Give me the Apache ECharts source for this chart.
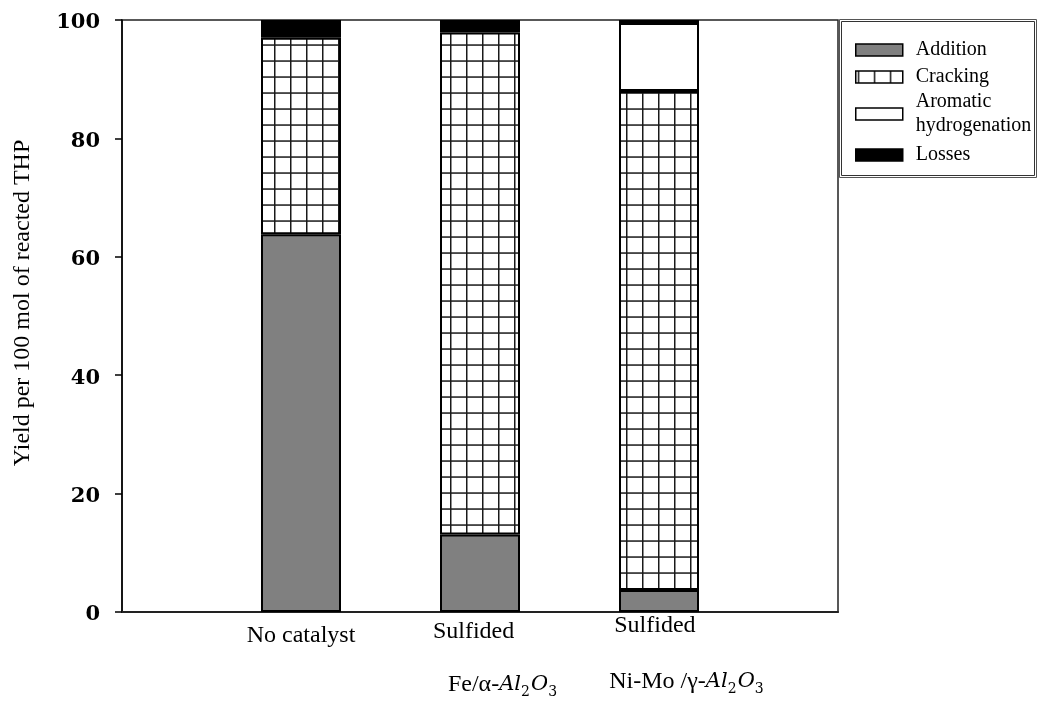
<!DOCTYPE html>
<html>
<head>
<meta charset="utf-8">
<script src="https://cdn.jsdelivr.net/npm/echarts@6/dist/echarts.min.js"></script>
<style>
  html, body { margin: 0; padding: 0; background: #fff; }
  #chart { width: 1038px; height: 711px; }
</style>
</head>
<body>
<div id="chart"></div>
<script>
// Catalyst runs (blank slots at both ends give the side margins)
const categories = ['', 'No catalyst', 'Sulfided Fe/α-Al2O3', 'Sulfided Ni-Mo /γ-Al2O3', ''];
const labelLine1 = ['', 'No catalyst', 'Sulfided', 'Sulfided', ''];
const labelLine2 = ['', '', 'Fe/α-', 'Ni-Mo /γ-', ''];

// Yield per 100 mol of reacted THP, stacked from the bottom
const addition = ['-', 63.8, 13.1, 3.7, '-'];
const cracking = ['-', 33.2, 84.8, 84.3, '-'];
const aromatic = ['-', '-', '-', 11.5, '-'];
const losses   = ['-', 3.0, 2.1, 0.5, '-'];

const yTicks = [0, 20, 40, 60, 80, 100];

const serif = '"Liberation Serif", "Times New Roman", serif';

// square grid hatch used for the cracking fraction
function gridPattern() {
  const c = document.createElement('canvas');
  c.width = 16; c.height = 16;
  const g = c.getContext('2d');
  g.fillStyle = '#fff';
  g.fillRect(0, 0, 16, 16);
  g.fillStyle = '#1a1a1a';
  g.fillRect(2, 0, 1.5, 16);
  g.fillRect(0, 12.3, 16, 1.5);
  return { image: c, repeat: 'repeat' };
}

const chart = echarts.init(document.getElementById('chart'), null, { renderer: 'canvas' });

const border = { borderColor: '#000', borderWidth: 2 };

function barSeries(name, data, fill) {
  return {
    name: name,
    type: 'bar',
    stack: 'yield',
    data: data,
    barWidth: 80,
    itemStyle: Object.assign({ color: fill }, border),
    emphasis: { disabled: true }
  };
}

const rich = {
  n:   { fontFamily: serif, fontSize: 24, color: '#000', lineHeight: 46 },
  s2:  { fontFamily: serif, fontSize: 24, color: '#000', lineHeight: 38, align: 'left', padding: [0, 0, 0, 31] },
  f2:  { fontFamily: serif, fontSize: 24, color: '#000', lineHeight: 68, align: 'left', padding: [0, 0, 0, 46] },
  s3:  { fontFamily: serif, fontSize: 24, color: '#000', lineHeight: 26, align: 'left', padding: [0, 0, 0, 61] },
  f3:  { fontFamily: serif, fontSize: 24, color: '#000', lineHeight: 86, align: 'left', padding: [0, 0, 0, 56] },
  i:   { fontFamily: '"DejaVu Serif", serif', fontStyle: 'italic', fontSize: 21, color: '#000', align: 'left' },
  sub: { fontFamily: '"DejaVu Serif", serif', fontSize: 14, color: '#000', align: 'left', padding: [14, 1, 0, 0] }
};

function formula() {
  return '{i|Al}{sub|2}{i|O}{sub|3}';
}

function catLabel(value, idx) {
  if (idx === 1) return '{n|' + labelLine1[1] + '}';
  if (idx === 2) return '{s2|' + labelLine1[2] + '}\n{f2|' + labelLine2[2] + '}' + formula();
  if (idx === 3) return '{s3|' + labelLine1[3] + '}\n{f3|' + labelLine2[3] + '}' + formula();
  return '';
}

const legendText = { fontFamily: serif, fontSize: 20, lineHeight: 24, color: '#000', padding: [0, 0, 0, 8] };

const option = {
  animation: false,
  backgroundColor: '#fff',
  grid: {
    left: 122, right: 200, top: 20, bottom: 99,
    show: true, borderColor: '#222', borderWidth: 1.5, backgroundColor: 'transparent'
  },
  legend: [
    {
      orient: 'vertical', left: 855, top: 38, padding: 0,
      itemWidth: 47, itemHeight: 12, itemGap: 3,
      icon: 'rect', selectedMode: false,
      itemStyle: { borderColor: '#000', borderWidth: 1.5 },
      textStyle: legendText,
      formatter: function (n) { return n === 'Aromatic hydrogenation' ? 'Aromatic\nhydrogenation' : n; },
      data: [
        'Addition',
        'Cracking',
        { name: 'Aromatic hydrogenation', textStyle: { padding: [0, 0, -24, 8] } }
      ]
    },
    {
      orient: 'vertical', left: 855, top: 143, padding: 0,
      itemWidth: 47, itemHeight: 12,
      icon: 'rect', selectedMode: false,
      itemStyle: { borderColor: '#000', borderWidth: 1.5 },
      textStyle: legendText,
      data: ['Losses']
    }
  ],
  graphic: [
    { type: 'rect', shape: { x: 839.5, y: 19.5, width: 197, height: 158 },
      style: { fill: 'none', stroke: '#555', lineWidth: 1 }, silent: true, z: 0 },
    { type: 'rect', shape: { x: 841.5, y: 21.5, width: 193, height: 154 },
      style: { fill: 'none', stroke: '#333', lineWidth: 1 }, silent: true, z: 0 }
  ],
  xAxis: {
    type: 'category',
    data: categories,
    boundaryGap: false,
    axisLine: { show: true, lineStyle: { color: '#222', width: 2 } },
    axisTick: { show: false },
    splitLine: { show: false },
    axisLabel: {
      interval: 0, margin: 1, verticalAlign: 'top',
      formatter: catLabel, rich: rich
    }
  },
  yAxis: {
    type: 'value',
    min: yTicks[0], max: yTicks[yTicks.length - 1], interval: 20,
    name: 'Yield per 100 mol of reacted THP',
    nameLocation: 'middle', nameGap: 87,
    nameTextStyle: { fontFamily: serif, fontSize: 24, color: '#000', padding: [0, 0, 0, 26] },
    axisLine: { show: true, lineStyle: { color: '#000', width: 1.5 } },
    axisTick: { show: true, inside: false, length: 7, lineStyle: { color: '#000', width: 1.5 } },
    splitLine: { show: false },
    axisLabel: {
      margin: 22,
      formatter: '{v|{value}}',
      rich: {
        v: { fontFamily: '"DejaVu Serif", serif', fontWeight: 'bold', fontSize: 21, color: '#000', padding: [6, 0, 0, 0] }
      }
    }
  },
  series: [
    barSeries('Addition', addition, '#808080'),
    barSeries('Cracking', cracking, gridPattern()),
    barSeries('Aromatic hydrogenation', aromatic, '#ffffff'),
    barSeries('Losses', losses, '#000000')
  ]
};

chart.setOption(option);
</script>
</body>
</html>
